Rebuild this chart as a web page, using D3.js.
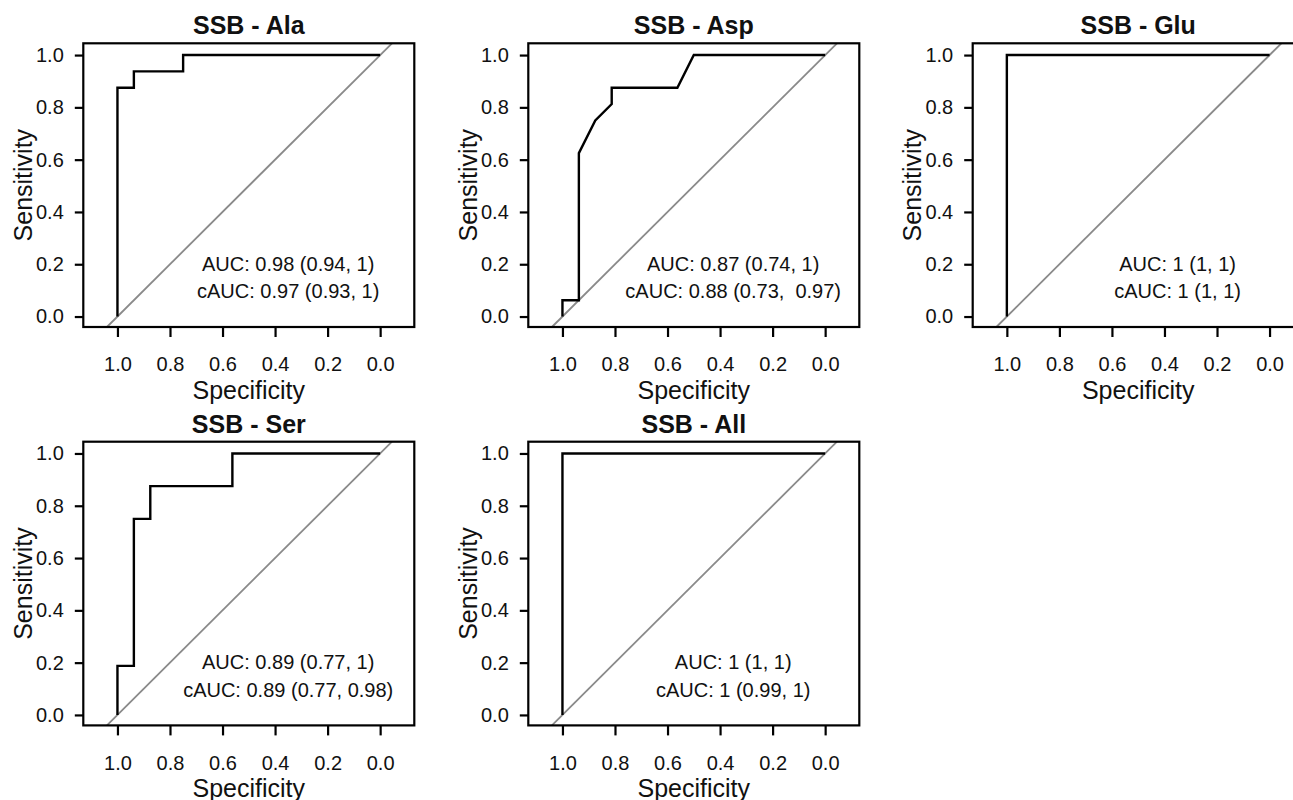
<!DOCTYPE html>
<html>
<head>
<meta charset="utf-8">
<script src="https://cdn.jsdelivr.net/npm/d3@7"></script>
<style>
  body { margin: 0; background: #fff; }
  svg { display: block; }
  text { font-family: "Liberation Sans", Arial, sans-serif; fill: #111; }
</style>
</head>
<body>
<svg id="svg_main"></svg>
<script>
// panel titles, in drawing order (row by row)
const titles = ['SSB - Ala', 'SSB - Asp', 'SSB - Glu', 'SSB - Ser', 'SSB - All'];

// ROC curves as [specificity, sensitivity]
const rocAla = [[1,0],[1,0.875],[0.9375,0.875],[0.9375,0.9375],[0.75,0.9375],[0.75,1],[0,1]];
const rocAsp = [[1,0],[1,0.0625],[0.9375,0.0625],[0.9375,0.625],[0.875,0.75],[0.8125,0.8125],[0.8125,0.875],[0.5625,0.875],[0.5,1],[0,1]];
const rocGlu = [[1,0],[1,1],[0,1]];
const rocSer = [[1,0],[1,0.1875],[0.9375,0.1875],[0.9375,0.75],[0.875,0.75],[0.875,0.875],[0.5625,0.875],[0.5625,1],[0,1]];
const rocAll = [[1,0],[1,1],[0,1]];
const curves = [rocAla, rocAsp, rocGlu, rocSer, rocAll];

const aucLabels = ['AUC: 0.98 (0.94, 1)', 'AUC: 0.87 (0.74, 1)', 'AUC: 1 (1, 1)', 'AUC: 0.89 (0.77, 1)', 'AUC: 1 (1, 1)'];
const cAucLabels = ['cAUC: 0.97 (0.93, 1)', 'cAUC: 0.88 (0.73,  0.97)', 'cAUC: 1 (1, 1)', 'cAUC: 0.89 (0.77, 0.98)', 'cAUC: 1 (0.99, 1)'];

const tickValues = [0, 0.2, 0.4, 0.6, 0.8, 1.0];

const width = 1293, height = 800;
const boxW = 331, boxH = 283.7;
const colX = [83.3, 528.3, 972.7], rowY = [43.3, 441.7];

const svg = d3.select('#svg_main').attr('width', width).attr('height', height);

// specificity runs backwards, like pROC
const x = d3.scaleLinear().domain([1.13, -0.13]).range([0, boxW]);
const y = d3.scaleLinear().domain([-0.04, 1.045]).range([boxH, 0]);
const line = d3.line().x(d => x(d[0])).y(d => y(d[1]));

titles.forEach((title, i) => {
    const g = svg.append('g')
        .attr('transform', `translate(${colX[i % 3]},${rowY[Math.floor(i / 3)]})`);

    // chance line, clipped to plot region
    const yMin = y.domain()[0], yMax = y.domain()[1];
    g.append('line')
        .attr('x1', x(1 - yMin)).attr('y1', y(yMin))
        .attr('x2', x(1 - yMax)).attr('y2', y(yMax))
        .attr('stroke', '#8a8a8a').attr('stroke-width', 1.8);

    g.append('path')
        .datum(curves[i])
        .attr('d', line)
        .attr('fill', 'none')
        .attr('stroke', '#000')
        .attr('stroke-width', 2.4)
        .attr('stroke-linejoin', 'miter');

    g.append('rect')
        .attr('width', boxW).attr('height', boxH)
        .attr('fill', 'none').attr('stroke', '#000').attr('stroke-width', 2.2);

    const yAxis = g.append('g')
        .call(d3.axisLeft(y).tickValues(tickValues).tickFormat(d3.format('.1f')).tickSize(8.5).tickPadding(11));
    const xAxis = g.append('g')
        .attr('transform', `translate(0,${boxH})`)
        .call(d3.axisBottom(x).tickValues(tickValues).tickFormat(d3.format('.1f')).tickSize(10).tickPadding(20));
    [yAxis, xAxis].forEach(a => {
        a.select('.domain').remove();
        a.selectAll('.tick line').attr('stroke', '#000').attr('stroke-width', 2.2);
        a.selectAll('.tick text').attr('fill', '#111').style('font-size', '20px');
    });

    g.append('text')
        .attr('x', boxW / 2).attr('y', -9)
        .attr('text-anchor', 'middle')
        .style('font-size', '25px').style('font-weight', 'bold')
        .text(title);

    g.append('text')
        .attr('x', boxW / 2).attr('y', boxH + 72)
        .attr('text-anchor', 'middle')
        .style('font-size', '25px')
        .text('Specificity');

    g.append('text')
        .attr('transform', `translate(-51.6,${boxH / 2}) rotate(-90)`)
        .attr('text-anchor', 'middle')
        .style('font-size', '25px')
        .text('Sensitivity');

    g.append('text')
        .attr('x', x(0.35)).attr('y', y(0.176))
        .attr('text-anchor', 'middle')
        .style('font-size', '20px')
        .text(aucLabels[i]);
    g.append('text')
        .attr('x', x(0.35)).attr('y', y(0.07))
        .attr('text-anchor', 'middle')
        .style('font-size', '20px')
        .style('white-space', 'pre')
        .text(cAucLabels[i]);
});
</script>
</body>
</html>
